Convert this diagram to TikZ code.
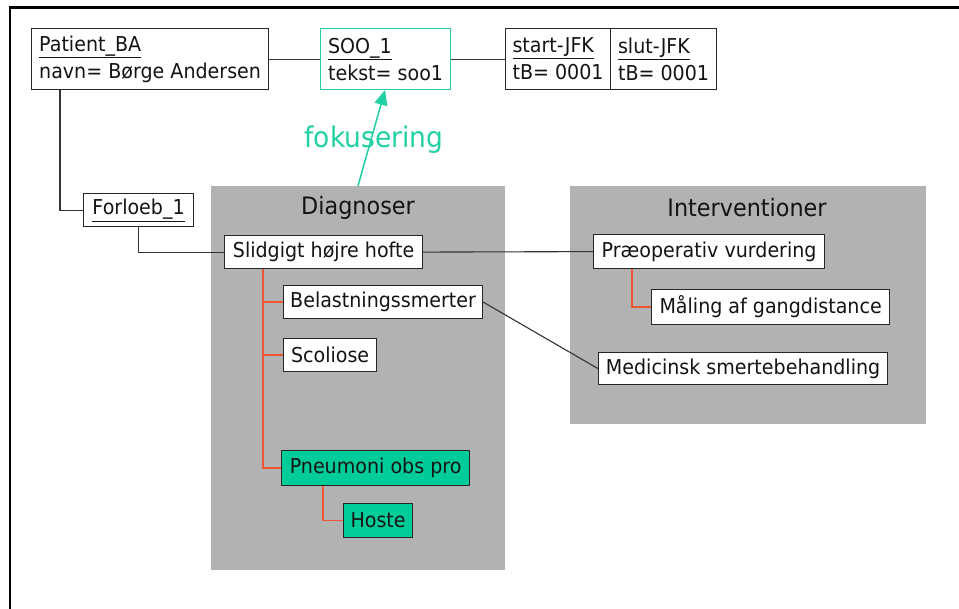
\documentclass[tikz,border=0pt]{standalone}
\usepackage{fontspec}
\setmainfont{DejaVu Sans}[FakeStretch=0.93]
\usetikzlibrary{arrows.meta}
\definecolor{panelgray}{HTML}{B2B2B2}
\definecolor{focusfill}{HTML}{00CC99}
\definecolor{linkteal}{HTML}{22D1A3}
\definecolor{treered}{HTML}{EE5533}
\definecolor{inkgray}{HTML}{141414}
\begin{document}
\begin{tikzpicture}[x=1pt,y=-1pt,
  objbox/.style={draw=black!85, fill=white, line width=1.2pt, text=inkgray,
    font=\fontsize{20.5}{27}\selectfont, align=left, inner xsep=4pt, inner ysep=0pt,
    anchor=north west},
  focusbox/.style={objbox, fill=focusfill},
  panel/.style={fill=panelgray},
  paneltitle/.style={font=\fontsize{24}{30}\selectfont, text=black!92},
  link/.style={draw=black!80, line width=1.1pt},
  tree/.style={draw=treered, line width=1.3pt},
  focusarrow/.style={draw=linkteal, line width=1.5pt,
    -{Triangle[length=15pt,width=13pt]}}]

\useasboundingbox (0,0) rectangle (959,609);
\fill[white] (0,0) rectangle (959,609);

% outer frame (left and top edges only)
\draw[line width=2.6pt] (10,609) -- (10,7.5) -- (959,7.5);

% grey panels
\fill[panel] (211,186) rectangle (505,570);
\fill[panel] (570,186) rectangle (926,424);
\node[paneltitle] (diagtitle) at (358,208) {Diagnoser};
\node[paneltitle] (inttitle) at (747,208) {Interventioner};

% object boxes on top row
\node[objbox, minimum width=237pt, minimum height=61pt] (patient) at (31,28)
  {\underline{Patient\_BA}\\navn= Børge Andersen};
\node[objbox, draw=linkteal, minimum width=130pt, minimum height=61pt] (soo) at (320,28)
  {\underline{SOO\_1}\\tekst= soo1};
\node[objbox, minimum width=105pt, minimum height=61pt] (startjfk) at (505,28)
  {\underline{start-JFK}\\tB= 0001};
\node[objbox, minimum width=106pt, minimum height=61pt] (slutjfk) at (610,28)
  {\underline{slut-JFK}\\tB= 0001};
\node[objbox, minimum width=110pt, minimum height=33pt] (forloeb) at (83,193)
  {\underline{Forloeb\_1}};

% diagnoses
\node[objbox, minimum width=198pt, minimum height=33pt] (slidgigt) at (224,235)
  {Slidgigt højre hofte};
\node[objbox, minimum width=199pt, minimum height=33pt] (belast) at (283,285)
  {Belastningssmerter};
\node[objbox, minimum width=93pt, minimum height=33pt] (scoliose) at (283,338)
  {Scoliose};
\node[focusbox, minimum width=188pt, minimum height=35pt] (pneumoni) at (281,450)
  {Pneumoni obs pro};
\node[focusbox, minimum width=69pt, minimum height=34pt] (hoste) at (343,503)
  {Hoste};

% interventions
\node[objbox, minimum width=231pt, minimum height=34pt] (praeop) at (593,234)
  {Præoperativ vurdering};
\node[objbox, minimum width=238pt, minimum height=35pt] (maaling) at (651,289)
  {Måling af gangdistance};
\node[objbox, minimum width=289pt, minimum height=32pt] (medicin) at (598,352)
  {Medicinsk smertebehandling};

% associations
\draw[link] (patient.east) -- (soo.west);
\draw[link] (soo.east) -- (startjfk.west);
\draw[link] ([xshift=29pt]patient.south west) |- (forloeb.west);
\draw[link] (forloeb.south) |- (slidgigt.west);
\draw[link] (slidgigt.east) -- (praeop.west);
\draw[link] (belast.east) -- (medicin.west);

% sub-diagnosis tree
\coordinate (trunk) at ([xshift=39pt]slidgigt.south west);
\draw[tree] (trunk) |- (pneumoni.west);
\draw[tree] (belast.west) -- (belast.west -| trunk);
\draw[tree] (scoliose.west) -- (scoliose.west -| trunk);
\draw[tree] ([xshift=42pt]pneumoni.south west) |- (hoste.west);
\draw[tree] ([xshift=39pt]praeop.south west) |- (maaling.west);

% focus arrow
\draw[focusarrow] (358,186) coordinate (focusbase) -- (385,90) coordinate (focustip);
\node[text=linkteal, font=\fontsize{28.5}{34}\selectfont] (focuslabel) at (374,140) {fokusering};

\end{tikzpicture}
\end{document}
